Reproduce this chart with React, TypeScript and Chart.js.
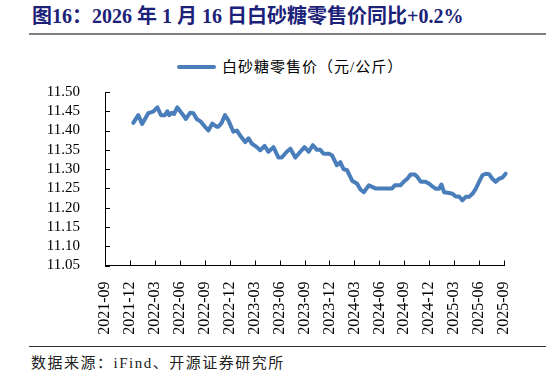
import React, { useEffect, useRef } from "react";
import { Chart, registerables } from "chart.js";
Chart.register(...registerables);

const title = "图16：2026 年 1 月 16 日白砂糖零售价同比+0.2%";
const seriesName = "白砂糖零售价（元/公斤）";
const sourceText = "数据来源：iFind、开源证券研究所";

const dates = [
  "2021-12-13", "2022-01-01", "2022-01-15", "2022-02-07", "2022-02-25", "2022-03-10",
  "2022-03-23", "2022-04-07", "2022-04-16", "2022-04-23", "2022-05-02", "2022-05-10",
  "2022-05-22", "2022-06-08", "2022-06-23", "2022-07-08", "2022-07-20", "2022-08-02",
  "2022-08-17", "2022-09-02", "2022-09-14", "2022-09-28", "2022-10-14", "2022-10-20",
  "2022-11-02", "2022-11-14", "2022-11-26", "2022-12-14", "2022-12-27", "2023-01-08",
  "2023-01-27", "2023-02-09", "2023-02-21", "2023-03-09", "2023-03-21", "2023-04-07",
  "2023-04-21", "2023-05-09", "2023-05-27", "2023-06-09", "2023-06-27", "2023-07-10",
  "2023-07-28", "2023-08-16", "2023-09-01", "2023-09-16", "2023-10-01", "2023-10-16",
  "2023-10-28", "2023-11-10", "2023-11-28", "2023-12-10", "2023-12-28", "2024-01-10",
  "2024-01-22", "2024-02-05", "2024-02-23", "2024-03-11", "2024-03-23", "2024-04-05",
  "2024-04-23", "2024-05-05", "2024-05-17", "2024-06-12", "2024-07-17", "2024-07-27",
  "2024-08-17", "2024-08-29", "2024-09-12", "2024-09-24", "2024-10-09", "2024-10-18",
  "2024-11-01", "2024-11-18", "2024-12-01", "2024-12-13", "2024-12-25", "2025-01-07",
  "2025-01-15", "2025-01-25", "2025-02-13", "2025-02-25", "2025-03-07", "2025-03-19",
  "2025-04-01", "2025-04-13", "2025-04-25", "2025-05-07", "2025-05-19", "2025-06-01",
  "2025-06-13", "2025-06-25", "2025-07-07", "2025-07-19", "2025-08-01", "2025-08-13",
  "2025-08-25", "2025-09-07",
];

const prices = [
  11.42, 11.44, 11.417, 11.445, 11.449, 11.46,
  11.44, 11.44, 11.45, 11.44, 11.446, 11.443,
  11.46, 11.445, 11.43, 11.446, 11.445, 11.43,
  11.423, 11.41, 11.40, 11.418, 11.41, 11.41,
  11.42, 11.44, 11.427, 11.397, 11.40, 11.388,
  11.37, 11.38, 11.366, 11.357, 11.349, 11.36,
  11.345, 11.357, 11.33, 11.33, 11.345, 11.353,
  11.33, 11.345, 11.357, 11.345, 11.362, 11.35,
  11.35, 11.34, 11.34, 11.336, 11.31, 11.318,
  11.30, 11.297, 11.27, 11.262, 11.247, 11.24,
  11.258, 11.254, 11.25, 11.25, 11.25, 11.258,
  11.258, 11.267, 11.275, 11.286, 11.286, 11.28,
  11.267, 11.267, 11.262, 11.255, 11.249, 11.249,
  11.26, 11.24, 11.238, 11.236, 11.229, 11.229,
  11.219, 11.228, 11.228, 11.236, 11.249, 11.267,
  11.284, 11.288, 11.287, 11.275, 11.267, 11.275,
  11.278, 11.288,
];

const xTickLabels = [
  "2021-09", "2021-12", "2022-03", "2022-06", "2022-09", "2022-12",
  "2023-03", "2023-06", "2023-09", "2023-12", "2024-03", "2024-06",
  "2024-09", "2024-12", "2025-03", "2025-06", "2025-09",
];

const yTicks = [11.05, 11.1, 11.15, 11.2, 11.25, 11.3, 11.35, 11.4, 11.45, 11.5];

const lineColor = "#4A7EBB";
const serif = "'Liberation Serif', 'Noto Sans CJK SC', serif";

function monthOffset(d: string): number {
  const [y, m, day] = d.split("-").map(Number);
  return (y - 2021) * 12 + (m - 9) + (day - 1) / 30;
}

const insideTicks = {
  id: "insideTicks",
  afterDraw(chart: any) {
    const { ctx, chartArea, scales } = chart;
    const x = scales.x;
    const y = scales.y;
    ctx.save();
    ctx.strokeStyle = "#000";
    ctx.lineWidth = 1;
    ctx.beginPath();
    y.ticks.forEach((_t: any, i: number) => {
      const py = Math.round(y.getPixelForTick(i)) + 0.5;
      ctx.moveTo(chartArea.left, py);
      ctx.lineTo(chartArea.left + 5, py);
    });
    x.ticks.forEach((_t: any, i: number) => {
      const px = Math.round(x.getPixelForTick(i)) + 0.5;
      ctx.moveTo(px, chartArea.bottom);
      ctx.lineTo(px, chartArea.bottom - 5);
    });
    ctx.stroke();
    ctx.restore();
  },
};

function SugarChart() {
  const ref = useRef<HTMLCanvasElement | null>(null);
  useEffect(() => {
    if (!ref.current) return;
    const data = dates.map((d, i) => ({ x: monthOffset(d), y: prices[i] }));
    const chart = new Chart(ref.current, {
      type: "line",
      data: {
        datasets: [
          {
            label: seriesName,
            data,
            borderColor: lineColor,
            backgroundColor: lineColor,
            borderWidth: 4,
            pointRadius: 0,
            tension: 0,
            clip: false as any,
            borderJoinStyle: "round",
            borderCapStyle: "round",
          },
        ],
      },
      options: {
        responsive: false,
        animation: false,
        events: [],
        layout: { padding: { top: 52, right: 42, left: 0, bottom: 0 } },
        plugins: {
          legend: { display: false },
          tooltip: { enabled: false },
        },
        scales: {
          x: {
            type: "linear",
            min: 0,
            max: 48,
            grid: { display: false },
            border: { display: true, color: "#000", width: 1 },
            afterBuildTicks: (scale: any) => {
              scale.ticks = xTickLabels.map((_l, i) => ({ value: i * 3 }));
            },
            afterFit: (scale: any) => {
              scale.height = 74.5;
            },
            ticks: {
              autoSkip: false,
              minRotation: 90,
              maxRotation: 90,
              padding: 8,
              color: "#000",
              font: { family: serif, size: 16 },
              callback: (v: any) => xTickLabels[Math.round(Number(v) / 3)] ?? "",
            },
          },
          y: {
            min: 11.05,
            max: 11.5,
            grid: { display: false },
            border: { display: true, color: "#000", width: 1 },
            afterBuildTicks: (scale: any) => {
              scale.ticks = yTicks.map((v) => ({ value: v }));
            },
            afterFit: (scale: any) => {
              scale.width = 105;
            },
            ticks: {
              autoSkip: false,
              padding: 17,
              color: "#000",
              font: { family: serif, size: 15 },
              callback: (v: any) => Number(v).toFixed(2),
            },
          },
        },
      },
      plugins: [insideTicks],
    });
    return () => chart.destroy();
  }, []);
  return (
    <canvas
      ref={ref}
      width={546}
      height={300}
      style={{ position: "absolute", left: 0, top: 40, width: 546, height: 300 }}
    />
  );
}

export default function App() {
  return (
    <div
      style={{
        position: "absolute",
        left: 0,
        top: 0,
        width: 546,
        height: 377,
        background: "#fff",
        overflow: "hidden",
      }}
    >
      <div
        style={{
          position: "absolute",
          left: 32,
          top: 3,
          fontFamily: serif,
          fontWeight: "bold",
          fontSize: 20,
          lineHeight: "26px",
          color: "#1C2278",
          whiteSpace: "nowrap",
        }}
      >
        {title}
      </div>
      <div
        style={{
          position: "absolute",
          left: 29,
          top: 33,
          width: 517,
          height: 1.5,
          background: "#7f7f7f",
        }}
      />
      <div
        style={{
          position: "absolute",
          left: 177,
          top: 65,
          width: 39,
          height: 4,
          borderRadius: 2,
          background: lineColor,
        }}
      />
      <div
        style={{
          position: "absolute",
          left: 222,
          top: 57,
          fontFamily: serif,
          fontSize: 15,
          letterSpacing: 1,
          lineHeight: "20px",
          color: "#000",
          whiteSpace: "nowrap",
        }}
      >
        {seriesName}
      </div>
      <SugarChart />
      <div
        style={{
          position: "absolute",
          left: 29,
          top: 346,
          width: 517,
          height: 1,
          background: "#333",
        }}
      />
      <div
        style={{
          position: "absolute",
          left: 31,
          top: 353,
          fontFamily: serif,
          fontSize: 15,
          letterSpacing: 1.5,
          lineHeight: "20px",
          color: "#222",
          whiteSpace: "nowrap",
        }}
      >
        {sourceText}
      </div>
    </div>
  );
}
